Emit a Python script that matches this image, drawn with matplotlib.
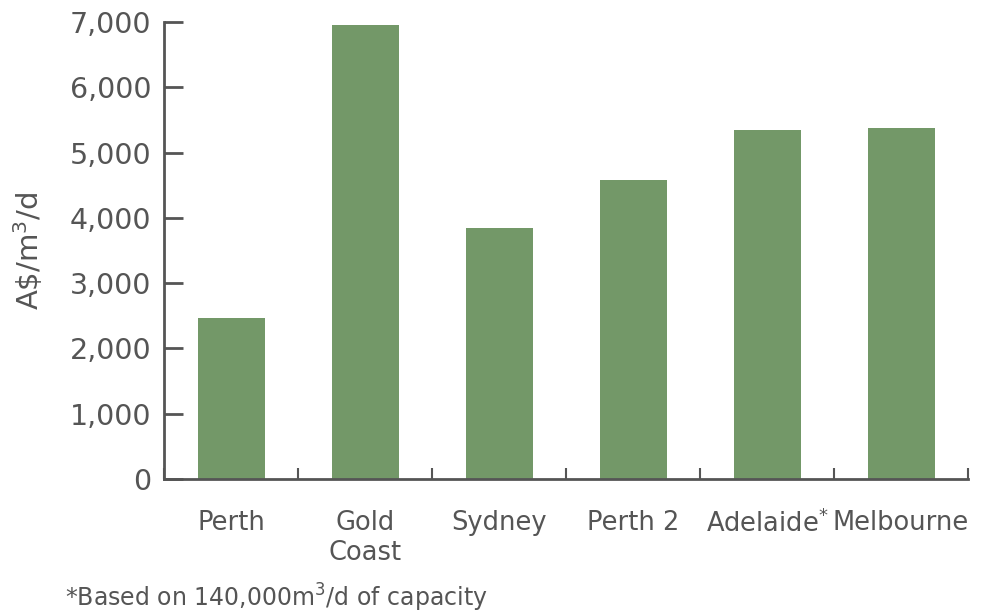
import matplotlib
matplotlib.use("Agg")
import matplotlib.pyplot as plt
import numpy as np

categories = ["Perth", "Gold\nCoast", "Sydney", "Perth 2", r"Adelaide$^{*}$", "Melbourne"]
values = [2470, 6950, 3840, 4580, 5340, 5380]
yticks = [0, 1000, 2000, 3000, 4000, 5000, 6000, 7000]
ytick_labels = ["0", "1,000", "2,000", "3,000", "4,000", "5,000", "6,000", "7,000"]

plt.rcParams['font.family'] = ['DejaVu Sans']
text_color = "#555555"
spine_color = "#555555"
bar_color = "#739868"

fig = plt.figure(figsize=(9.93, 6.15), dpi=100)
ax = fig.add_axes([164/993, 1-479/615, (968-164)/993, (479-22)/615])

x = np.arange(len(categories))
ax.bar(x, values, width=0.5, color=bar_color, zorder=2)

ax.set_xlim(-0.5, len(categories) - 0.5)
ax.set_ylim(0, 7000)

ax.set_yticks(yticks)
ax.set_yticklabels(ytick_labels, fontsize=20.5, color=text_color)
ax.tick_params(axis='y', direction='in', length=14, width=2, color=spine_color, pad=9)

ax.set_xticks(x)
ax.set_xticklabels(categories, fontsize=18.5, color=text_color)
ax.tick_params(axis='x', which='major', length=0, pad=22)
ax.set_xticks(np.arange(-0.5, len(categories)), minor=True)
ax.tick_params(axis='x', which='minor', direction='in', length=8, width=1.5, color=spine_color)

for s in ['top', 'right']:
    ax.spines[s].set_visible(False)
for s in ['left', 'bottom']:
    ax.spines[s].set_color(spine_color)
    ax.spines[s].set_linewidth(2)

ax.set_ylabel(r"A\$/m$^3$/d", fontsize=21, color=text_color, labelpad=18)

fig.text(65/993, 1-598/615, r"*Based on 140,000m$^3$/d of capacity", fontsize=17,
         color=text_color, va='center', ha='left')

fig.savefig("out.png", dpi=100)
